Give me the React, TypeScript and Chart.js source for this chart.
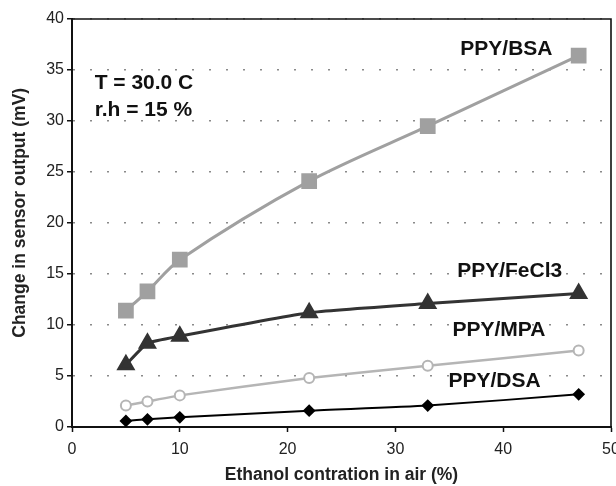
import React, { useEffect, useRef } from "react";
import { Chart, registerables } from "chart.js";
Chart.register(...registerables);

const xValues = [5, 7, 10, 22, 33, 47];
const bsa = [11.4, 13.3, 16.4, 24.1, 29.5, 36.4];
const fecl3 = [6.1, 8.2, 8.9, 11.2, 12.1, 13.1];
const mpa = [2.1, 2.5, 3.1, 4.8, 6.0, 7.5];
const dsa = [0.6, 0.75, 0.95, 1.6, 2.1, 3.2];

const seriesLabels = ["PPY/BSA", "PPY/FeCl3", "PPY/MPA", "PPY/DSA"];
// label anchor positions in data units [x, y]
const labelPos: [number, number][] = [[40.3, 37.0], [40.6, 15.25], [39.6, 9.5], [39.2, 4.46]];
const noteLines = ["T = 30.0 C", "r.h = 15 %"];
const notePos: [number, number][] = [[2.1, 33.7], [2.1, 31.1]];
const xTitle = "Ethanol contration in air (%)";
const yTitle = "Change in sensor output (mV)";

const FONT = "'Liberation Sans', Arial, Helvetica, sans-serif";

const pts = (ys: number[]) => xValues.map((x, i) => ({ x, y: ys[i] }));

const annotPlugin = {
  id: "annot",
  afterDraw(chart: any) {
    const { ctx, chartArea: a, scales } = chart;
    ctx.save();
    ctx.strokeStyle = "#111";
    ctx.lineWidth = 1.6;
    ctx.beginPath();
    ctx.moveTo(a.left, a.top);
    ctx.lineTo(a.right, a.top);
    ctx.lineTo(a.right, a.bottom);
    ctx.stroke();
    ctx.fillStyle = "#111";
    ctx.font = `bold 21px ${FONT}`;
    ctx.textAlign = "center";
    ctx.textBaseline = "middle";
    seriesLabels.forEach((t, i) => {
      ctx.fillText(t, scales.x.getPixelForValue(labelPos[i][0]), scales.y.getPixelForValue(labelPos[i][1]));
    });
    ctx.textAlign = "left";
    noteLines.forEach((t, i) => {
      ctx.fillText(t, scales.x.getPixelForValue(notePos[i][0]), scales.y.getPixelForValue(notePos[i][1]));
    });
    // y axis title
    ctx.fillStyle = "#222";
    ctx.font = `bold 17.5px ${FONT}`;
    ctx.textAlign = "center";
    ctx.translate(20, scales.y.getPixelForValue(21));
    ctx.rotate(-Math.PI / 2);
    ctx.fillText(yTitle, 0, 0);
    ctx.restore();
  },
};

export default function App() {
  const ref = useRef<HTMLCanvasElement>(null);
  useEffect(() => {
    const chart = new Chart(ref.current!, {
      type: "line",
      data: {
        datasets: [
          {
            label: seriesLabels[0],
            data: pts(bsa),
            borderColor: "#a0a0a0",
            backgroundColor: "#a0a0a0",
            borderWidth: 3,
            pointStyle: "rect",
            pointRadius: 9,
            tension: 0.3,
          },
          {
            label: seriesLabels[1],
            data: pts(fecl3),
            borderColor: "#333",
            backgroundColor: "#333",
            borderWidth: 3,
            pointStyle: "triangle",
            pointRadius: 8,
            tension: 0.15,
          },
          {
            label: seriesLabels[2],
            data: pts(mpa),
            borderColor: "#b5b5b5",
            backgroundColor: "#fff",
            borderWidth: 2.5,
            pointStyle: "circle",
            pointRadius: 5,
            pointBorderWidth: 2,
            tension: 0.15,
          },
          {
            label: seriesLabels[3],
            data: pts(dsa),
            borderColor: "#000",
            backgroundColor: "#000",
            borderWidth: 2,
            pointStyle: "rectRot",
            pointRadius: 5,
            tension: 0.2,
          },
        ],
      },
      options: {
        animation: false,
        responsive: false,
        layout: { autoPadding: false, padding: { top: 19, right: 5, left: 8, bottom: 0 } },
        plugins: { legend: { display: false }, tooltip: { enabled: false } },
        scales: {
          x: {
            type: "linear",
            min: 0,
            max: 50,
            afterFit: (s: any) => {
              s.height = 59;
              s.paddingLeft = 0;
              s.paddingRight = 0;
            },
            ticks: { stepSize: 10, color: "#222", font: { size: 16, family: FONT }, padding: 8 },
            grid: { drawOnChartArea: false, drawTicks: true, tickLength: 5, tickColor: "#111", tickWidth: 1.5 },
            border: { color: "#111", width: 2 },
            title: {
              display: true,
              text: xTitle,
              color: "#222",
              font: { size: 17.5, weight: "bold", family: FONT },
              padding: { top: 0, bottom: 0 },
            },
          },
          y: {
            min: 0,
            max: 40,
            afterFit: (s: any) => {
              s.width = 64;
              s.paddingTop = 0;
              s.paddingBottom = 0;
            },
            ticks: { stepSize: 5, color: "#222", font: { size: 16, family: FONT }, padding: 3 },
            grid: {
              color: "#8a8a8a",
              lineWidth: 1.5,
              tickBorderDash: [],
              tickColor: "#111",
              tickLength: 5,
              tickWidth: 1.5,
            },
            border: { color: "#111", width: 2, dash: [2, 15] },
            title: { display: false },
          },
        },
      },
      plugins: [annotPlugin],
    } as any);
    return () => chart.destroy();
  }, []);
  return (
    <div style={{ position: "fixed", left: 0, top: 0, width: 616, height: 486, background: "#fff" }}>
      <canvas ref={ref} width={616} height={486} />
    </div>
  );
}
